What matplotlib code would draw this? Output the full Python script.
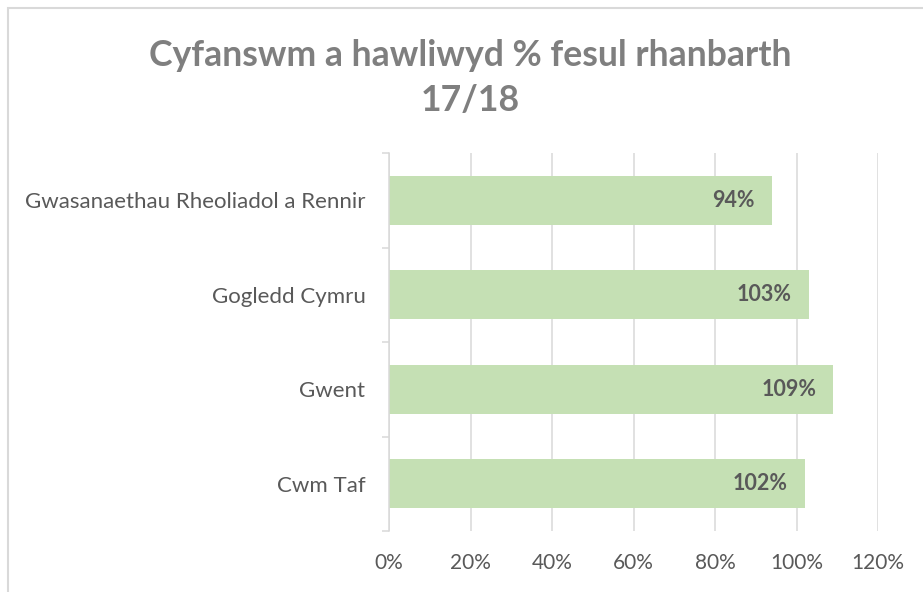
import matplotlib
matplotlib.use('Agg')
import matplotlib.pyplot as plt
from matplotlib.patches import Rectangle
from matplotlib.ticker import FuncFormatter, FixedLocator

plt.rcParams['font.family'] = ['Lato', 'DejaVu Sans']

# data, top to bottom as shown
regions = ["Gwasanaethau Rheoliadol a Rennir", "Gogledd Cymru", "Gwent", "Cwm Taf"]
claimed_pct = [94, 103, 109, 102]
x_ticks = [0, 20, 40, 60, 80, 100, 120]

title = "Cyfanswm a hawliwyd % fesul rhanbarth\n17/18"
bar_color = "#c5e0b4"
grid_color = "#d9d9d9"
text_grey = "#595959"

fig = plt.figure(figsize=(9.23, 5.92), dpi=100)
ax = fig.add_axes([389 / 923, 1 - 531 / 592, (878 - 389) / 923, (531 - 153) / 592])

# chart border (right/bottom sit outside the image, like the reference crop)
fig.patches.append(Rectangle((8 / 923, -0.05), 1.0, 1 - 8 / 592 + 0.05,
                             transform=fig.transFigure, fill=False,
                             edgecolor=grid_color, linewidth=1.5, zorder=0))

ypos = list(range(len(regions)))
ax.barh(ypos, claimed_pct, height=0.52, color=bar_color, zorder=2)
for y, v in zip(ypos, claimed_pct):
    ax.annotate(f"{v}%", xy=(v, y), xytext=(-17, 0), textcoords="offset pixels",
                ha="right", va="center", fontsize=15.5, fontweight="bold",
                color=text_grey, zorder=3)

ax.set_xlim(0, 120)
ax.set_ylim(len(regions) - 0.5, -0.5)
ax.set_xticks(x_ticks)
ax.xaxis.set_major_formatter(FuncFormatter(lambda v, p: f"{v:.0f}%"))
ax.set_yticks(ypos)
ax.set_yticklabels(regions)
ax.yaxis.set_minor_locator(FixedLocator([i - 0.5 for i in range(len(regions) + 1)]))

ax.grid(axis="x", color=grid_color, linewidth=1.1, zorder=0)
ax.set_axisbelow(True)
for s in ["top", "right", "bottom"]:
    ax.spines[s].set_visible(False)
ax.spines["left"].set_color(grid_color)
ax.spines["left"].set_linewidth(1.1)

ax.tick_params(axis="x", length=0, pad=16, labelsize=15, labelcolor=text_grey)
ax.tick_params(axis="y", which="major", length=0, pad=17, labelsize=16, labelcolor=text_grey)
ax.tick_params(axis="y", which="minor", length=5, width=1.1, color=grid_color)

fig.text(470 / 923, 1 - 78 / 592, title, ha="center", va="center",
         fontsize=25.7, fontweight="bold", color="#7f7f7f", linespacing=1.45)

fig.savefig("out.png", dpi=100)
